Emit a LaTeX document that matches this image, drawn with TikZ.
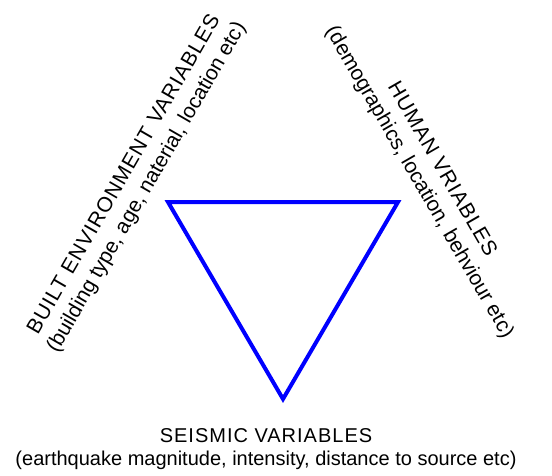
\documentclass[tikz,border=0pt]{standalone}
\usepackage{fontspec}
\setmainfont{Liberation Sans}
\usepackage{tikz}
\newcommand{\capsline}[1]{{\addfontfeature{LetterSpace=5}#1}}
\tikzset{
  varlabel/.style={align=center, inner sep=0pt, font=\fontsize{20}{23}\selectfont},
  sidelabel/.style={varlabel, font=\fontsize{21}{26}\selectfont},
  triside/.style={draw=blue, line width=4pt}
}
\begin{document}
\begin{tikzpicture}[x=1pt, y=-1pt]
  \useasboundingbox (0,0) rectangle (552,475);

  % Corners of the triangle
  \coordinate (tl) at (168,202);
  \coordinate (tr) at (398,202);
  \coordinate (bt) at (283,399);
  \draw[triside] (tl) -- (tr) -- (bt) -- cycle;

  % Labels along the sides
  \node[sidelabel, rotate=60] (built) at (136,181) {\capsline{BUILT ENVIRONMENT VARIABLES}\\(building type, age, naterial, location etc)};
  \node[sidelabel, rotate=-60] (human) at (430,176) {\capsline{HUMAN VRIABLES}\\(demographics, location, behviour etc)};
  \node[varlabel] (seismic) at (266,449) {\capsline{SEISMIC VARIABLES}\\(earthquake magnitude, intensity, distance to source etc)};

\end{tikzpicture}
\end{document}
